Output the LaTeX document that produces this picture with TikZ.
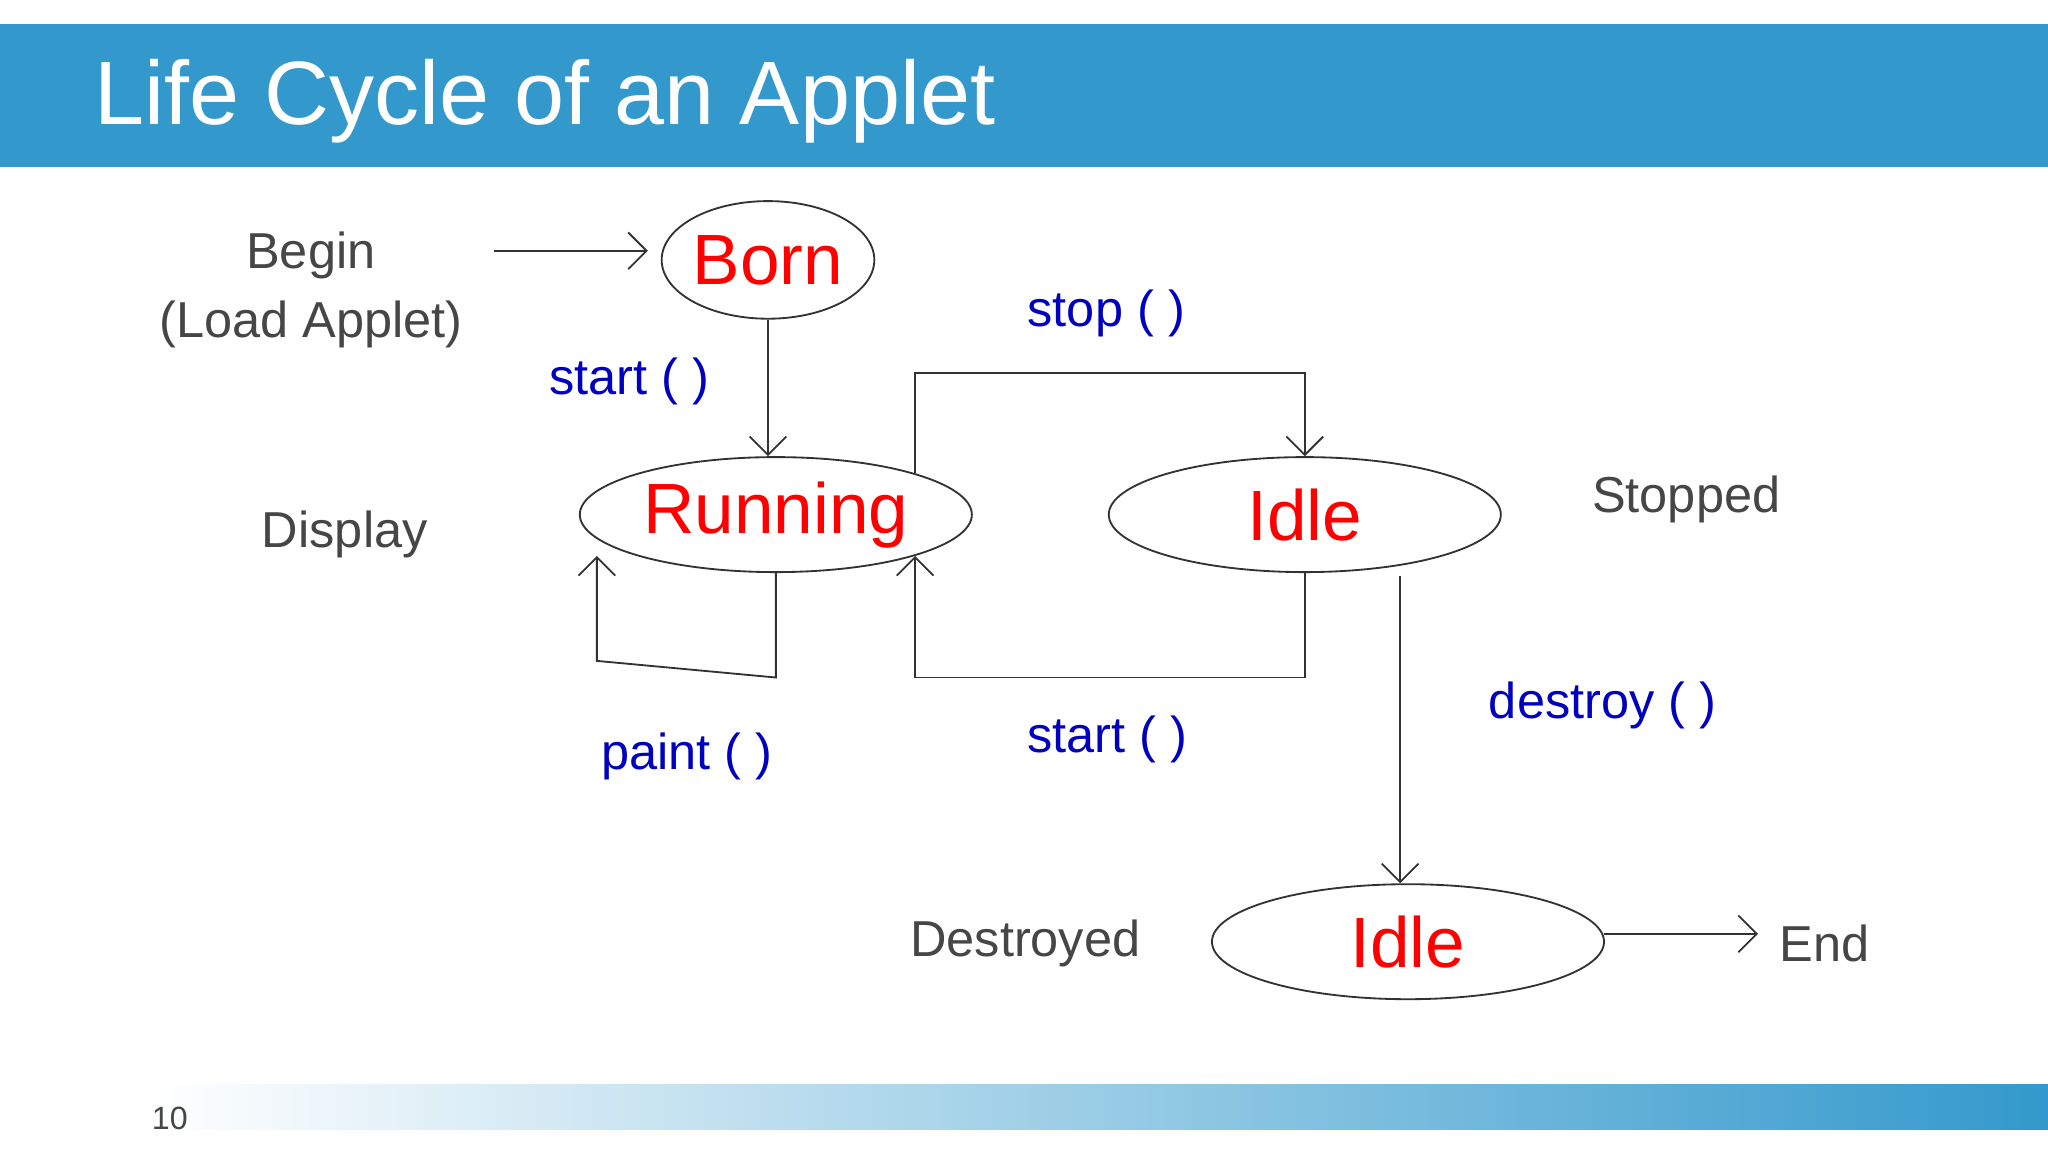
\documentclass[tikz,border=0pt]{standalone}
\usepackage{fontspec}
\setmainfont{Liberation Sans}
\usetikzlibrary{arrows.meta,shapes.geometric}
\definecolor{barblue}{RGB}{51,153,204}
\definecolor{lblblue}{RGB}{0,0,190}
\definecolor{txtgrey}{RGB}{70,70,70}
\definecolor{lncol}{RGB}{50,50,50}

\begin{document}
\begin{tikzpicture}[x=0.01cm,y=-0.01cm]
\useasboundingbox (0,0) rectangle (1568,882);
% header and footer
\fill[barblue] (0,18) rectangle (1568,128);
\node[anchor=base west,text=white,font=\fontsize{19.6}{23}\selectfont] (title) at (60,95) {Life Cycle of an Applet};
\shade[left color=white,right color=barblue] (115,830) rectangle (1568,865);
\node[text=txtgrey,font=\fontsize{7}{8}\selectfont] (pg) at (130,856) {10};

\begin{scope}[every node/.style={ellipse,draw=lncol,text=red,inner sep=0pt,
              minimum width=3cm,minimum height=0.88cm,font=\fontsize{15.5}{18}\selectfont}]
    \node (born)  at (588,199) [minimum width=1.56cm,minimum height=0.9cm] {Born};
    \node (run)   at (594,394) {Running};
    \node (idle)  at (999,394) {Idle};
    \node (dead)  at (1078,721) {Idle};
\end{scope}

\begin{scope}[every node/.style={text=txtgrey,align=center,font=\fontsize{11}{15}\selectfont}]
    \node (begin) at (238,222) {Begin\\(Load Applet)};
    \node (disp)  at (264,409) {Display};
    \node (stpd)  at (1291,382) {Stopped};
    \node (dstr)  at (785,722) {Destroyed};
    \node (end)   at (1397,722) {End};
\end{scope}

\begin{scope}[every node/.style={text=lblblue,font=\fontsize{11}{14}\selectfont}]
    \node (lstart) at (482,292) {start ( )};
    \node (lstop)  at (847,240) {stop ( )};
    \node (lpaint) at (526,579) {paint ( )};
    \node (lback)  at (848,566) {start ( )};
    \node (ldest)  at (1227,540) {destroy ( )};
\end{scope}

\coordinate (b0) at (378,192);
\coordinate (b1) at (496,192);
\coordinate (e0) at (1228,715);
\coordinate (e1) at (1346,715);
\coordinate (pc) at (457,506);
\coordinate (dt) at (1072,441);

\begin{scope}[draw=lncol,>={Straight Barb[length=4pt,width=8pt]}]
    \draw[->] (b0) -- (b1);
    \draw[->] (born.south) -- (born.south |- run.north);
    \draw[->] (run.north east) -- ++(0,-77) -| (idle.north);
    \draw[->] (idle.south) -- ++(0,80) -| (run.south east);
    \draw[->] (run.south) -- ++(0,80) -- (pc) -- (pc |- run.south west);
    \draw[->] (dt) -- (dt |- dead.north);
    \draw[->] (e0) -- (e1);
\end{scope}
\end{tikzpicture}
\end{document}
